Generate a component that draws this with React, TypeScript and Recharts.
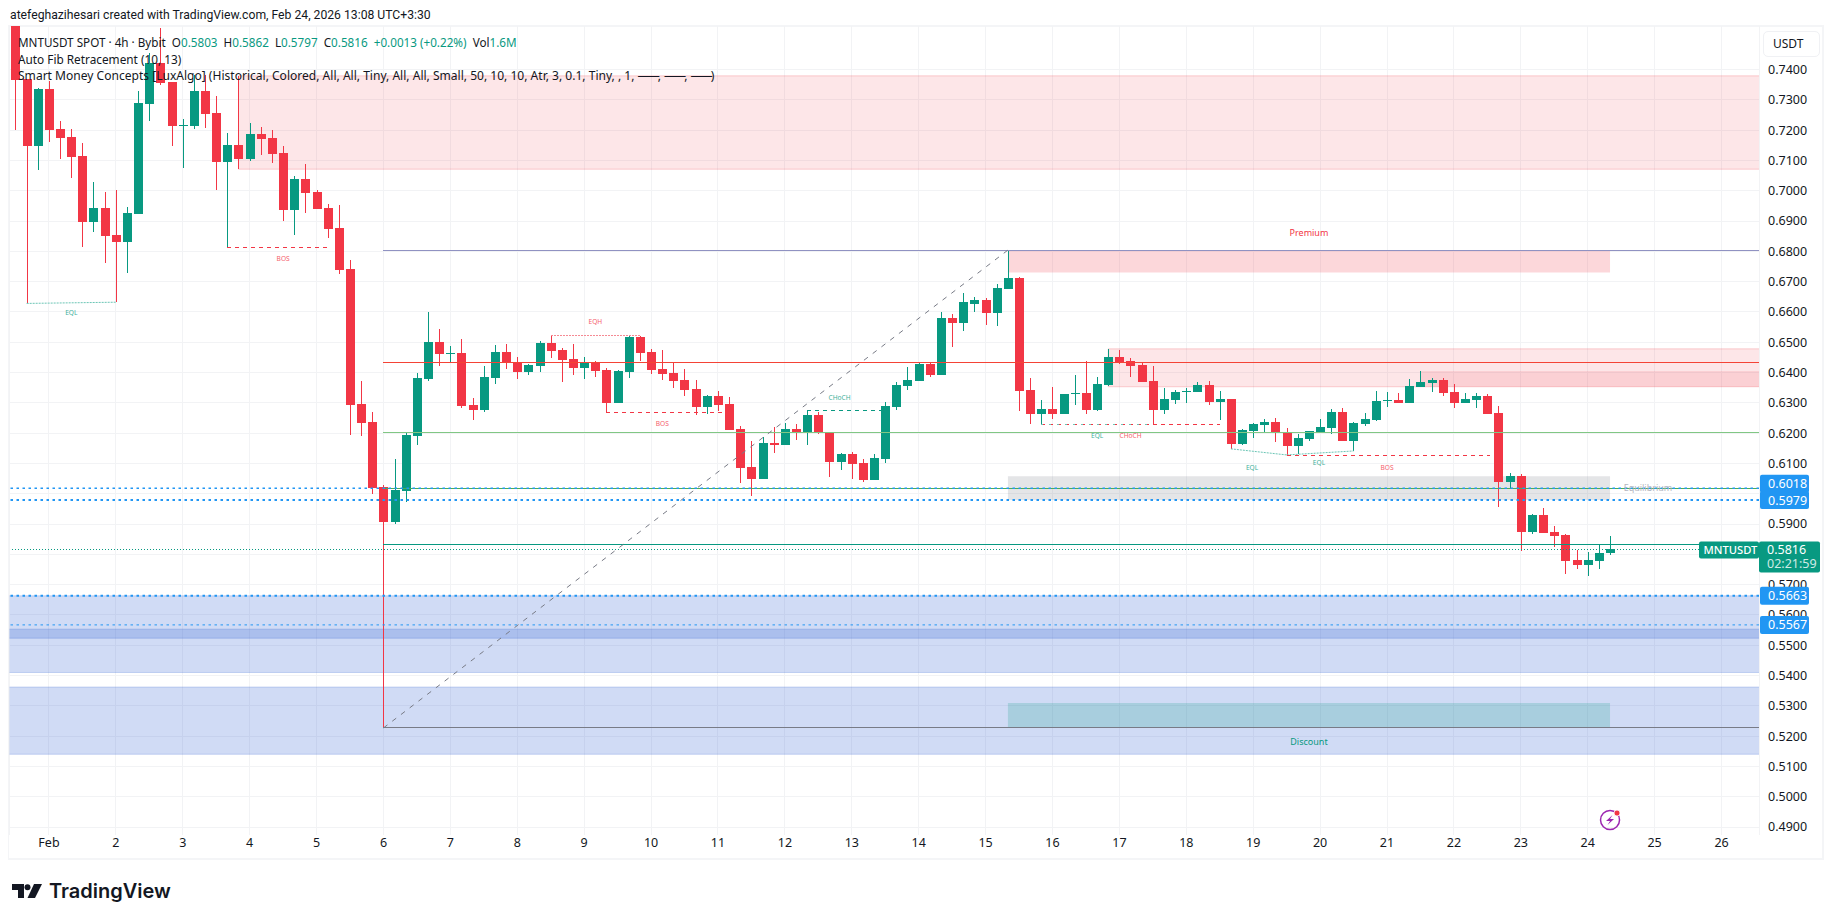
import React from 'react';
import {
  Bar,
  CartesianGrid,
  ComposedChart,
  ReferenceArea,
  ReferenceDot,
  ReferenceLine,
  XAxis,
  YAxis,
} from 'recharts';

const firstCandle = -3;

const opens = [
  0.759, 0.7369, 0.7149, 0.7336, 0.7204, 0.7177, 0.7115, 0.6897, 0.6943, 0.6854,
  0.6831, 0.6923, 0.7286, 0.7422, 0.7359, 0.7214, 0.7214, 0.7329, 0.7256, 0.7095,
  0.7151, 0.7105, 0.7187, 0.7174, 0.7125, 0.6936, 0.7039, 0.6996, 0.6943, 0.6877,
  0.6742, 0.6296, 0.6237, 0.6022, 0.5907, 0.6009, 0.6191, 0.6379, 0.6501, 0.6463,
  0.6465, 0.6293, 0.6276, 0.6382, 0.6468, 0.6435, 0.6402, 0.6422, 0.6497, 0.6474,
  0.6444, 0.6415, 0.6435, 0.6408, 0.6299, 0.6402, 0.6517, 0.6468, 0.6411, 0.6398,
  0.6375, 0.6346, 0.6286, 0.6322, 0.6296, 0.6214, 0.6088, 0.6049, 0.6167, 0.6161,
  0.6214, 0.62, 0.626, 0.6204, 0.6105, 0.6131, 0.6101, 0.6045, 0.6115, 0.6286,
  0.6356, 0.6372, 0.6428, 0.6392, 0.658, 0.6563, 0.6625, 0.6639, 0.6596, 0.6675,
  0.6712, 0.6342, 0.6263, 0.628, 0.6263, 0.6329, 0.6332, 0.6276, 0.6359, 0.6451,
  0.6438, 0.6425, 0.6372, 0.6276, 0.6309, 0.6336, 0.6336, 0.6359, 0.6303, 0.6313,
  0.6164, 0.6207, 0.6227, 0.6237, 0.6204, 0.6158, 0.6181, 0.6204, 0.6217, 0.627,
  0.6174, 0.623, 0.6243, 0.6306, 0.6309, 0.6299, 0.6352, 0.6365, 0.6375, 0.6336,
  0.6299, 0.6309, 0.6322, 0.6266, 0.6039, 0.6059, 0.5874, 0.593, 0.5874, 0.5864,
  0.5781, 0.5765, 0.5778, 0.5803,
];

const highs = [
  0.759, 0.7369, 0.7339, 0.7362, 0.723, 0.7204, 0.7157, 0.7029, 0.6996, 0.7002,
  0.6946, 0.7329, 0.7455, 0.7536, 0.7359, 0.7237, 0.7382, 0.7382, 0.7313, 0.7191,
  0.7379, 0.7223, 0.721, 0.72, 0.7148, 0.7049, 0.7088, 0.7002, 0.6956, 0.6953,
  0.6771, 0.6372, 0.627, 0.6029, 0.6115, 0.6204, 0.6398, 0.66, 0.6544, 0.6487,
  0.6511, 0.6316, 0.6421, 0.6491, 0.6494, 0.6451, 0.6428, 0.6504, 0.6524, 0.6481,
  0.6494, 0.6451, 0.6438, 0.6415, 0.6408, 0.652, 0.652, 0.6478, 0.6474, 0.6431,
  0.6412, 0.6375, 0.6326, 0.6339, 0.6319, 0.6223, 0.6174, 0.6187, 0.622, 0.6233,
  0.623, 0.6276, 0.627, 0.6204, 0.6134, 0.6138, 0.6115, 0.6131, 0.6303, 0.6369,
  0.6418, 0.6435, 0.6435, 0.66, 0.6593, 0.6662, 0.6649, 0.6646, 0.6692, 0.6804,
  0.6715, 0.6382, 0.6309, 0.6352, 0.6329, 0.6392, 0.6438, 0.6385, 0.6478, 0.6474,
  0.6448, 0.6431, 0.6421, 0.6349, 0.6342, 0.6349, 0.6369, 0.6372, 0.6339, 0.6313,
  0.6214, 0.6233, 0.6247, 0.625, 0.6217, 0.6197, 0.6207, 0.6247, 0.628, 0.6283,
  0.6237, 0.6266, 0.6339, 0.6336, 0.6332, 0.6379, 0.6405, 0.6382, 0.6382, 0.6362,
  0.6332, 0.6332, 0.6329, 0.6289, 0.6069, 0.6065, 0.5933, 0.5953, 0.5894, 0.5867,
  0.5814, 0.5808, 0.5831, 0.5862,
];

const lows = [
  0.72, 0.6628, 0.7068, 0.7161, 0.7105, 0.7042, 0.6814, 0.6864, 0.6762, 0.6632,
  0.6729, 0.6923, 0.723, 0.7349, 0.7148, 0.7075, 0.7204, 0.7207, 0.7002, 0.6812,
  0.7072, 0.7098, 0.7118, 0.7092, 0.69, 0.6854, 0.6926, 0.694, 0.6844, 0.6725,
  0.6194, 0.619, 0.5999, 0.5227, 0.59, 0.5973, 0.6161, 0.6372, 0.6421, 0.6431,
  0.6283, 0.6243, 0.627, 0.6362, 0.6412, 0.6379, 0.6392, 0.6402, 0.6448, 0.6369,
  0.6392, 0.6379, 0.6385, 0.6266, 0.6299, 0.6382, 0.6438, 0.6395, 0.6375, 0.6349,
  0.6322, 0.626, 0.6263, 0.6273, 0.621, 0.6035, 0.5992, 0.6049, 0.6134, 0.6161,
  0.6177, 0.6161, 0.6197, 0.6055, 0.6078, 0.6049, 0.6039, 0.6045, 0.6101, 0.6276,
  0.6342, 0.6372, 0.6385, 0.6392, 0.6484, 0.6537, 0.66, 0.6557, 0.6554, 0.6675,
  0.6273, 0.623, 0.6229, 0.6247, 0.6263, 0.6293, 0.6263, 0.6273, 0.6356, 0.6428,
  0.6385, 0.6369, 0.6229, 0.6263, 0.6296, 0.6299, 0.6336, 0.6293, 0.6243, 0.6148,
  0.6161, 0.6184, 0.6204, 0.6171, 0.6128, 0.6131, 0.6174, 0.62, 0.6197, 0.6174,
  0.6141, 0.6224, 0.624, 0.6286, 0.6299, 0.6299, 0.6352, 0.6336, 0.6322, 0.6283,
  0.6299, 0.6283, 0.6263, 0.5956, 0.6019, 0.5811, 0.5867, 0.587, 0.5824, 0.5735,
  0.5752, 0.5729, 0.5752, 0.5797,
];

const closes = [
  0.7365, 0.7149, 0.7336, 0.7199, 0.7174, 0.7111, 0.6897, 0.6943, 0.6851, 0.6831,
  0.6926, 0.729, 0.7422, 0.7356, 0.7214, 0.7217, 0.7329, 0.7253, 0.7095, 0.7151,
  0.7105, 0.7187, 0.7171, 0.7121, 0.6936, 0.7039, 0.6993, 0.694, 0.6874, 0.6738,
  0.6293, 0.6233, 0.6019, 0.5907, 0.6012, 0.6194, 0.6382, 0.6501, 0.6461, 0.6465,
  0.6289, 0.6276, 0.6385, 0.6468, 0.6431, 0.6402, 0.6425, 0.6497, 0.6471, 0.6441,
  0.6415, 0.6435, 0.6405, 0.6299, 0.6405, 0.6517, 0.6464, 0.6408, 0.6395, 0.6372,
  0.6342, 0.6286, 0.6322, 0.6293, 0.621, 0.6085, 0.6049, 0.6167, 0.6161, 0.6214,
  0.62, 0.626, 0.62, 0.6105, 0.6131, 0.6098, 0.6045, 0.6118, 0.6289, 0.6359,
  0.6375, 0.6428, 0.6392, 0.658, 0.6563, 0.6633, 0.6639, 0.6596, 0.6679, 0.6712,
  0.6339, 0.6263, 0.628, 0.6263, 0.6329, 0.6332, 0.6276, 0.6362, 0.6451, 0.6431,
  0.6421, 0.6369, 0.6276, 0.6313, 0.6336, 0.6339, 0.6359, 0.6303, 0.6313, 0.6164,
  0.621, 0.623, 0.6237, 0.62, 0.6158, 0.6184, 0.6207, 0.622, 0.627, 0.6174,
  0.6233, 0.6247, 0.6306, 0.6309, 0.6299, 0.6355, 0.6369, 0.6375, 0.6332, 0.6299,
  0.6313, 0.6322, 0.6263, 0.6039, 0.6059, 0.5874, 0.593, 0.587, 0.586, 0.5778,
  0.5765, 0.5781, 0.5804, 0.5816,
];

// one day is six 4h candles, Feb 1 sits on candle 0
const dayTicks = [
  0, 6, 12, 18, 24, 30, 36, 42, 48, 54, 60, 66, 72, 78, 84, 90, 96, 102, 108, 114, 120, 126, 132,
  138, 144, 150,
];
const dayLabels = [
  'Feb', '2', '3', '4', '5', '6', '7', '8', '9', '10', '11', '12', '13', '14', '15', '16', '17',
  '18', '19', '20', '21', '22', '23', '24', '25', '26',
];
const gridPrices = [
  0.49, 0.5, 0.51, 0.52, 0.53, 0.54, 0.55, 0.56, 0.57, 0.58, 0.59, 0.6, 0.61, 0.62, 0.63, 0.64,
  0.65, 0.66, 0.67, 0.68, 0.69, 0.7, 0.71, 0.72, 0.73, 0.74,
];
// 0.58 and 0.60 are covered by the price tags in the reference
const priceTicks = [
  0.49, 0.5, 0.51, 0.52, 0.53, 0.54, 0.55, 0.56, 0.57, 0.59, 0.61, 0.62, 0.63, 0.64, 0.65, 0.66,
  0.67, 0.68, 0.69, 0.7, 0.71, 0.72, 0.73, 0.74,
];

const xMin = -3.54;
const xMax = 153.36;
const yMin = 0.48736;
const yMax = 0.75436;

const fibStart = 30;
const fibHigh = { x: 86, price: 0.6804 };
const fibLow = { x: 30, price: 0.5227 };
const fibLevels = [
  { price: 0.6804, color: '#9092c2' },
  { price: 0.6434, color: '#f44336' },
  { price: 0.6203, color: '#81c784' },
  { price: 0.6018, color: '#4caf50' },
  { price: 0.5833, color: '#089981' },
  { price: 0.5227, color: '#787b86' },
];

const blueDots = [
  { price: 0.6018, text: '0.6018', width: 1.5, dy: -4.5 },
  { price: 0.5979, text: '0.5979', width: 2, dy: 0 },
  { price: 0.5663, text: '0.5663', width: 2, dy: 0 },
  { price: 0.5567, text: '0.5567', width: 1, dy: 0 },
];

const lastPrice = 0.5816;

const RED = '#f23645';
const GREEN = '#089981';

const zones = [
  { x1: xMin - 5, x2: xMax + 5, top: 0.5663, bottom: 0.5523, fill: '#295ad2', alpha: 0.22, edge: true },
  { x1: xMin - 5, x2: xMax + 5, top: 0.5553, bottom: 0.541, fill: '#295ad2', alpha: 0.22, edge: true },
  { x1: xMin - 5, x2: xMax + 5, top: 0.5362, bottom: 0.514, fill: '#295ad2', alpha: 0.22, edge: true },
  { x1: 17, x2: xMax + 5, top: 0.7379, bottom: 0.7071, fill: RED, alpha: 0.125, edge: true },
  { x1: 95, x2: xMax + 5, top: 0.6478, bottom: 0.6353, fill: RED, alpha: 0.125, edge: true },
  { x1: 123, x2: xMax + 5, top: 0.6405, bottom: 0.6353, fill: RED, alpha: 0.125, edge: false },
  { x1: 86, x2: 140, top: 0.6804, bottom: 0.673, fill: RED, alpha: 0.2, edge: false },
  { x1: 86, x2: 140, top: 0.6058, bottom: 0.5979, fill: '#787b86', alpha: 0.2, edge: false },
  { x1: 86, x2: 140, top: 0.5309, bottom: 0.5229, fill: GREEN, alpha: 0.2, edge: false },
];

const structureLines = [
  { x1: -2, p1: 0.6628, x2: 6, p2: 0.6632, color: '#6cc6b6', dash: '2 1' },
  { x1: 16, p1: 0.6813, x2: 25.3, p2: 0.6813, color: RED, dash: '4 4' },
  { x1: 45, p1: 0.6523, x2: 53, p2: 0.6523, color: '#f58a94', dash: '2 1' },
  { x1: 50, p1: 0.6269, x2: 60.4, p2: 0.6269, color: RED, dash: '4 4' },
  { x1: 68, p1: 0.6275, x2: 75, p2: 0.6275, color: GREEN, dash: '4 4' },
  { x1: 89, p1: 0.6229, x2: 105, p2: 0.6229, color: RED, dash: '4 4' },
  { x1: 89, p1: 0.6229, x2: 99, p2: 0.6229, color: '#6cc6b6', dash: '2 6' },
  { x1: 106, p1: 0.6148, x2: 111, p2: 0.6128, color: '#6cc6b6', dash: '2 1' },
  { x1: 111, p1: 0.6128, x2: 117, p2: 0.6141, color: '#6cc6b6', dash: '2 1' },
  { x1: 111, p1: 0.6127, x2: 129.2, p2: 0.6127, color: RED, dash: '4 4' },
];

const structureLabels = [
  { text: 'EQL', x: 2, price: 0.6596, color: '#3fb09b', size: 6.6 },
  { text: 'BOS', x: 21, price: 0.6775, color: '#f5606c', size: 6.6 },
  { text: 'EQH', x: 49, price: 0.6567, color: '#f5606c', size: 6.6 },
  { text: 'BOS', x: 55, price: 0.623, color: '#f5606c', size: 6.6 },
  { text: 'CHoCH', x: 70.9, price: 0.6317, color: '#3fb09b', size: 6.6 },
  { text: 'EQL', x: 94, price: 0.6191, color: '#3fb09b', size: 6.6 },
  { text: 'CHoCH', x: 97, price: 0.619, color: '#f5606c', size: 6.6 },
  { text: 'EQL', x: 107.9, price: 0.6086, color: '#3fb09b', size: 6.6 },
  { text: 'EQL', x: 113.9, price: 0.6102, color: '#3fb09b', size: 6.6 },
  { text: 'BOS', x: 120, price: 0.6087, color: '#f5606c', size: 6.6 },
  { text: 'Premium', x: 113, price: 0.686, color: RED, size: 9 },
  { text: 'Discount', x: 113, price: 0.5181, color: GREEN, size: 9 },
  { text: 'Equilibrium', x: 143.4, price: 0.6019, color: '#b2b5be', size: 9 },
];

const candles = opens.map((open, i) => ({
  t: firstCandle + i,
  open,
  high: highs[i],
  low: lows[i],
  close: closes[i],
}));

const uiFont = '"Noto Sans", sans-serif';

function Candle(props: any) {
  const { x, y, width, height, payload } = props;
  const { open, close, high, low } = payload;
  const color = close >= open ? GREEN : RED;
  const perPrice = height / (high - low);
  const top = y + (high - Math.max(open, close)) * perPrice;
  const bodyH = Math.max(Math.abs(close - open) * perPrice, 1);
  const mid = Math.round(x + width / 2);
  return (
    <g shapeRendering="crispEdges">
      <rect x={mid} y={y} width={1} height={height} fill={color} />
      <rect x={mid - 4} y={top} width={9} height={bodyH} fill={color} />
    </g>
  );
}

function PriceTag(props: any) {
  const { viewBox, text, dy = 0 } = props;
  const cy = viewBox.y + dy;
  const left = viewBox.x + viewBox.width + 1;
  return (
    <g>
      <rect x={left} y={cy - 9} width={49} height={18} rx={2} fill="#2196f3" />
      <text x={left + 8} y={cy + 4.5} fontSize={12.5} fontFamily={uiFont} fill="#fff">
        {text}
      </text>
    </g>
  );
}

function LastPriceTag(props: any) {
  const { viewBox } = props;
  const right = viewBox.x + viewBox.width;
  const cy = viewBox.y;
  return (
    <g fontFamily={uiFont}>
      <rect x={right - 60} y={cy - 8} width={60} height={17} rx={2} fill={GREEN} />
      <text x={right - 55.5} y={cy + 4.5} fontSize={11.2} fontWeight={500} fill="#fff">
        MNTUSDT
      </text>
      <rect x={right} y={cy - 8} width={61} height={31} rx={2} fill={GREEN} />
      <text x={right + 8} y={cy + 4.5} fontSize={12.5} fill="#fff">
        0.5816
      </text>
      <text x={right + 8} y={cy + 18.5} fontSize={12.5} fill="#cfeae5">
        02:21:59
      </text>
    </g>
  );
}

function BoltMark(props: any) {
  const { cx, cy } = props;
  return (
    <g>
      <circle cx={cx} cy={cy} r={9.5} fill="none" stroke="#9c27b0" strokeWidth={1.5} />
      <path
        d={`M${cx + 2.5} ${cy - 5} L${cx - 4} ${cy + 1} H${cx} L${cx - 2.5} ${cy + 5} L${cx + 4} ${cy - 1} H${cx} Z`}
        fill="#9c27b0"
      />
      <circle cx={cx + 7} cy={cy - 7} r={3} fill={RED} stroke="#fff" strokeWidth={0.8} />
    </g>
  );
}

function Legend() {
  const line: React.CSSProperties = {
    position: 'absolute',
    left: 18,
    whiteSpace: 'pre',
    fontSize: 12,
    lineHeight: '16px',
    color: '#131722',
  };
  const val: React.CSSProperties = { color: GREEN };
  const stroke: React.CSSProperties = { letterSpacing: -2 };
  return (
    <div style={{ fontFamily: uiFont, pointerEvents: 'none' }}>
      <div style={{ ...line, left: 10, top: 7, fontFamily: 'Roboto, sans-serif', fontSize: 12.2 }}>
        atefeghazihesari created with TradingView.com, Feb 24, 2026 13:08 UTC+3:30
      </div>
      <div style={{ ...line, top: 34, fontSize: 11.7 }}>
        MNTUSDT SPOT · 4h · Bybit{'  '}O<span style={val}>0.5803</span>{'  '}H
        <span style={val}>0.5862</span>{'  '}L<span style={val}>0.5797</span>{'  '}C
        <span style={val}>0.5816</span>{'  '}
        <span style={val}>+0.0013 (+0.22%)</span>{'  '}Vol<span style={val}>1.6M</span>
      </div>
      <div style={{ ...line, top: 51, fontSize: 11.8 }}>Auto Fib Retracement (10, 13)</div>
      <div style={{ ...line, top: 68, fontSize: 12.05 }}>
        Smart Money Concepts [LuxAlgo] (Historical, Colored, All, All, Tiny, All, All, Small, 50,
        10, 10, Atr, 3, 0.1, Tiny, , 1, <span style={stroke}>——</span>,{' '}
        <span style={stroke}>——</span>, <span style={stroke}>——</span>)
      </div>
    </div>
  );
}

function Logo() {
  return (
    <div style={{ position: 'absolute', left: 12, top: 879, height: 24, display: 'flex', alignItems: 'center' }}>
      <svg width={30} height={14} viewBox="0 0 30 14">
        <path d="M0 0 H12 V14 H6 V6 H0 Z" fill="#131722" />
        <circle cx={15.5} cy={3.2} r={3} fill="#131722" />
        <path d="M22 0 H30 L23 14 H15.5 Z" fill="#131722" />
      </svg>
      <span style={{ marginLeft: 7, fontFamily: 'Inter, sans-serif', fontWeight: 600, fontSize: 20, color: '#131722' }}>
        TradingView
      </span>
    </div>
  );
}

export default function App() {
  return (
    <div style={{ position: 'absolute', left: 0, top: 0, width: 1835, height: 921, background: '#fff', overflow: 'hidden' }}>
      <div style={{ position: 'absolute', left: 8, top: 25, width: 1816, height: 835, border: '2px solid #f4f5f7', borderLeftWidth: 1, boxSizing: 'border-box' }} />
      <div style={{ position: 'absolute', left: 0, top: 0 }}>
        <ComposedChart
          width={1835}
          height={921}
          data={candles}
          margin={{ top: 26, right: 0, bottom: 56, left: 9.5 }}
        >
          <CartesianGrid
            stroke="#f2f3f5"
            strokeWidth={1}
            shapeRendering="crispEdges"
            horizontalValues={gridPrices}
          />
          <XAxis
            dataKey="t"
            type="number"
            domain={[xMin, xMax]}
            allowDataOverflow
            ticks={dayTicks}
            interval={0}
            height={30}
            tickLine={false}
            axisLine={false}
            tickMargin={0}
            tickSize={0}
            tick={{ fontSize: 12.5, fill: '#131722', fontFamily: uiFont, dy: 3 }}
            tickFormatter={(t: number) => dayLabels[dayTicks.indexOf(t)]}
          />
          <YAxis
            type="number"
            orientation="right"
            domain={[yMin, yMax]}
            allowDataOverflow
            ticks={priceTicks}
            interval={0}
            width={76}
            tickLine={false}
            axisLine={false}
            tickMargin={9}
            tickSize={0}
            tick={{ fontSize: 12.5, fill: '#131722', fontFamily: uiFont }}
            tickFormatter={(p: number) => p.toFixed(4)}
          />
          {zones.map((z, i) => (
            <ReferenceArea
              key={i}
              x1={z.x1}
              x2={z.x2}
              y1={z.bottom}
              y2={z.top}
              fill={z.fill}
              fillOpacity={z.alpha}
              stroke={z.edge ? z.fill : 'none'}
              strokeOpacity={0.22}
              ifOverflow="hidden"
            />
          ))}
          {fibLevels.map((f) => (
            <ReferenceLine
              key={f.price}
              segment={[
                { x: fibStart, y: f.price },
                { x: xMax, y: f.price },
              ]}
              stroke={f.color}
              strokeWidth={1}
              shapeRendering="crispEdges"
            />
          ))}
          <ReferenceLine
            segment={[
              { x: fibLow.x, y: fibLow.price },
              { x: fibHigh.x, y: fibHigh.price },
            ]}
            stroke="#787b86"
            strokeDasharray="5 6"
          />
          {structureLines.map((s, i) => (
            <ReferenceLine
              key={i}
              segment={[
                { x: s.x1, y: s.p1 },
                { x: s.x2, y: s.p2 },
              ]}
              stroke={s.color}
              strokeDasharray={s.dash}
              shapeRendering={s.p1 === s.p2 ? 'crispEdges' : undefined}
            />
          ))}
          {blueDots.map((b) => (
            <ReferenceLine
              key={b.price}
              y={b.price}
              stroke="#2196f3"
              strokeWidth={b.width}
              strokeDasharray="2.5 3.5"
            />
          ))}
          <ReferenceLine
            y={lastPrice}
            stroke={GREEN}
            strokeDasharray="1 2"
            shapeRendering="crispEdges"
          />
          <Bar
            dataKey={(d: any) => [d.low, d.high]}
            barSize={9}
            shape={<Candle />}
            isAnimationActive={false}
          />
          {structureLabels.map((l, i) => (
            <ReferenceDot
              key={i}
              x={l.x}
              y={l.price}
              r={0}
              stroke="none"
              label={{ value: l.text, position: 'center', fontSize: l.size, fill: l.color, fontFamily: uiFont }}
            />
          ))}
          <ReferenceDot x={140} y={0.4923} r={9} shape={<BoltMark />} />
        </ComposedChart>
      </div>
      {/* second transparent chart so the price tags sit over the axis text */}
      <div style={{ position: 'absolute', left: 0, top: 0, pointerEvents: 'none' }}>
        <ComposedChart
          width={1835}
          height={921}
          data={candles}
          margin={{ top: 26, right: 76, bottom: 86, left: 9.5 }}
        >
          <XAxis dataKey="t" type="number" domain={[xMin, xMax]} allowDataOverflow hide />
          <YAxis type="number" domain={[yMin, yMax]} allowDataOverflow hide />
          <ReferenceLine y={lastPrice} stroke="none" label={<LastPriceTag />} />
          {blueDots.map((b) => (
            <ReferenceLine
              key={b.price}
              y={b.price}
              stroke="none"
              label={<PriceTag text={b.text} dy={b.dy} />}
            />
          ))}
        </ComposedChart>
      </div>
      <div
        style={{
          position: 'absolute',
          left: 1763,
          top: 31,
          width: 57,
          height: 26,
          border: '1px solid #f0f1f4',
          borderRadius: 5,
          boxSizing: 'border-box',
          background: '#fff',
          fontFamily: uiFont,
          fontSize: 12,
          lineHeight: '24px',
          paddingLeft: 9,
          color: '#131722',
        }}
      >
        USDT
      </div>
      <Legend />
      <Logo />
    </div>
  );
}
